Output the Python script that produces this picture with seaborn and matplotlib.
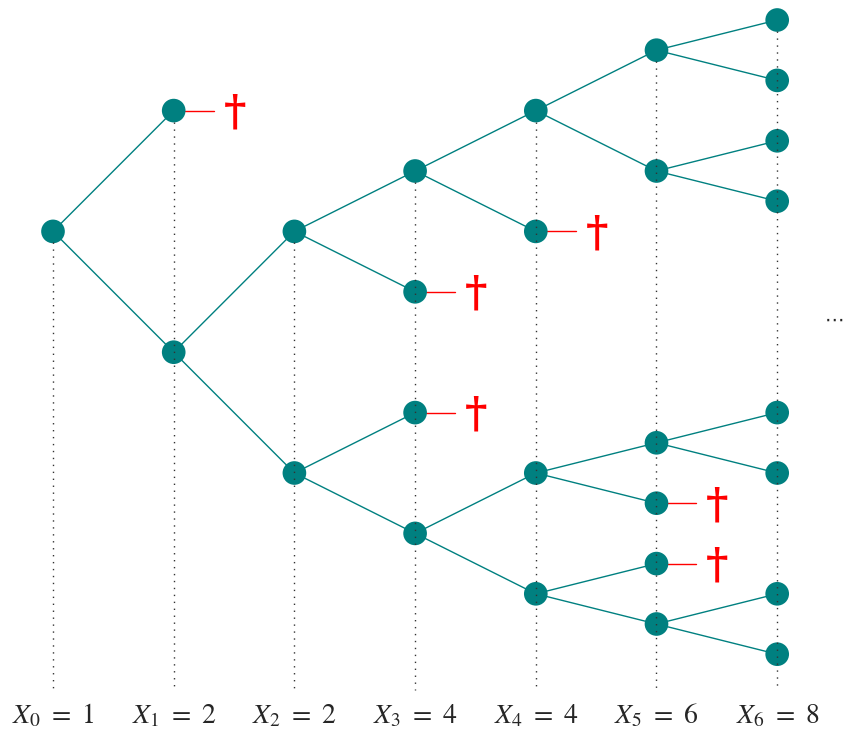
import matplotlib
matplotlib.use("Agg")
import matplotlib.pyplot as plt
import seaborn as sns
import pandas as pd

# vertical level of every node, per generation (top = 0)
levels = [
    [3.5],
    [1.5, 5.5],
    [3.5, 7.5],
    [2.5, 4.5, 6.5, 8.5],
    [1.5, 3.5, 7.5, 9.5],
    [0.5, 2.5, 7.0, 8.0, 9.0, 10.0],
    [0, 1, 2, 3, 6.5, 7.5, 9.5, 10.5],
]
# parent index (in previous generation) of every node
parents = [
    [],
    [0, 0],
    [1, 1],
    [0, 0, 1, 1],
    [0, 0, 3, 3],
    [0, 0, 2, 2, 3, 3],
    [0, 0, 1, 1, 2, 2, 5, 5],
]
# nodes that die (generation, index)
dead = [(1, 0), (3, 1), (3, 2), (4, 1), (5, 3), (5, 4)]
counts = [1, 2, 2, 4, 4, 6, 8]

teal = "#008080"
red = "#ff0000"

sns.set_style("white")
plt.rcParams["mathtext.fontset"] = "stix"

fig = plt.figure(figsize=(8.5, 7.3), dpi=100)
ax = fig.add_axes([0, 0, 1, 1])

x0, dx = 53, 120.7
y0, dy = 20, 60.4
px = lambda g: x0 + dx * g
py = lambda l: y0 + dy * l

rows = []
for g, lv in enumerate(levels):
    for i, l in enumerate(lv):
        rows.append({"gen": g, "x": px(g), "y": py(l)})
nodes = pd.DataFrame(rows)

# edges
for g in range(1, len(levels)):
    for i, p in enumerate(parents[g]):
        ax.plot([px(g - 1), px(g)], [py(levels[g - 1][p]), py(levels[g][i])],
                color=teal, lw=1, zorder=1)

# dotted guides
bottom = 690
for g, lv in enumerate(levels):
    ax.plot([px(g), px(g)], [py(min(lv)) + 11, bottom], color="#333333",
            lw=1, ls=(0, (1, 4)), zorder=3)

sns.scatterplot(data=nodes, x="x", y="y", s=290, color=teal, edgecolor="none",
                ax=ax, zorder=2, legend=False)

# deaths
for g, i in dead:
    x, y = px(g), py(levels[g][i])
    ax.plot([x + 11, x + 40], [y, y], color=red, lw=1, zorder=1)
    ax.text(x + 61, y + 2, "\u2020", color=red, fontsize=31, fontweight="bold",
            family="DejaVu Serif", ha="center", va="center")

for g, c in enumerate(counts):
    ax.text(px(g), 715, rf"$X_{{{g}}}\ =\ {c}$", fontsize=20, ha="center", va="center")

ax.text(835, 320, "\u22ef", fontsize=14, family="DejaVu Sans", ha="center", va="center")

ax.set_xlim(0, 850)
ax.set_ylim(730, 0)
ax.axis("off")
fig.savefig("out.png", dpi=100)
